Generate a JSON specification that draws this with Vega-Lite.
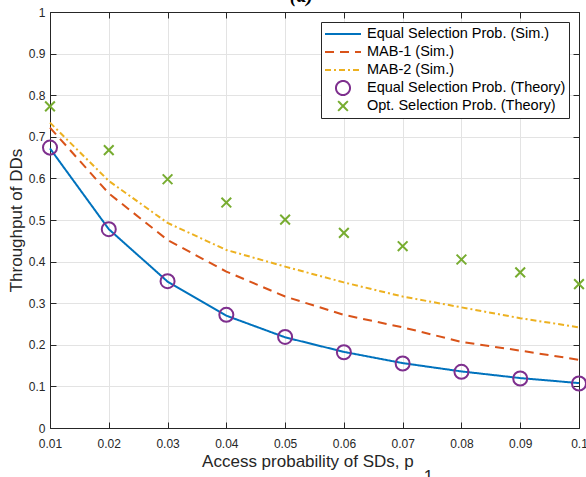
{
  "$schema": "https://vega.github.io/schema/vega-lite/v6.json",
  "width": 529,
  "height": 416,
  "autosize": {"type": "none"},
  "padding": {"left": 50, "top": 12, "right": 7, "bottom": 49},
  "background": "white",
  "title": {
    "text": "(a)",
    "font": "Liberation Serif",
    "fontSize": 20,
    "fontStyle": "italic",
    "fontWeight": "bold",
    "color": "black",
    "anchor": "middle",
    "frame": "group",
    "baseline": "alphabetic",
    "dx": -13,
    "dy": 16,
    "offset": 0
  },
  "data": {
    "values": [
      {"p": 0.01, "value": 0.672, "series": "Equal Selection Prob. (Sim.)"},
      {"p": 0.02, "value": 0.478, "series": "Equal Selection Prob. (Sim.)"},
      {"p": 0.03, "value": 0.352, "series": "Equal Selection Prob. (Sim.)"},
      {"p": 0.04, "value": 0.270, "series": "Equal Selection Prob. (Sim.)"},
      {"p": 0.05, "value": 0.218, "series": "Equal Selection Prob. (Sim.)"},
      {"p": 0.06, "value": 0.183, "series": "Equal Selection Prob. (Sim.)"},
      {"p": 0.07, "value": 0.156, "series": "Equal Selection Prob. (Sim.)"},
      {"p": 0.08, "value": 0.136, "series": "Equal Selection Prob. (Sim.)"},
      {"p": 0.09, "value": 0.120, "series": "Equal Selection Prob. (Sim.)"},
      {"p": 0.10, "value": 0.108, "series": "Equal Selection Prob. (Sim.)"},
      {"p": 0.01, "value": 0.722, "series": "MAB-1 (Sim.)"},
      {"p": 0.02, "value": 0.564, "series": "MAB-1 (Sim.)"},
      {"p": 0.03, "value": 0.452, "series": "MAB-1 (Sim.)"},
      {"p": 0.04, "value": 0.376, "series": "MAB-1 (Sim.)"},
      {"p": 0.05, "value": 0.316, "series": "MAB-1 (Sim.)"},
      {"p": 0.06, "value": 0.272, "series": "MAB-1 (Sim.)"},
      {"p": 0.07, "value": 0.242, "series": "MAB-1 (Sim.)"},
      {"p": 0.08, "value": 0.207, "series": "MAB-1 (Sim.)"},
      {"p": 0.09, "value": 0.186, "series": "MAB-1 (Sim.)"},
      {"p": 0.10, "value": 0.164, "series": "MAB-1 (Sim.)"},
      {"p": 0.01, "value": 0.734, "series": "MAB-2 (Sim.)"},
      {"p": 0.02, "value": 0.594, "series": "MAB-2 (Sim.)"},
      {"p": 0.03, "value": 0.493, "series": "MAB-2 (Sim.)"},
      {"p": 0.04, "value": 0.428, "series": "MAB-2 (Sim.)"},
      {"p": 0.05, "value": 0.388, "series": "MAB-2 (Sim.)"},
      {"p": 0.06, "value": 0.350, "series": "MAB-2 (Sim.)"},
      {"p": 0.07, "value": 0.316, "series": "MAB-2 (Sim.)"},
      {"p": 0.08, "value": 0.290, "series": "MAB-2 (Sim.)"},
      {"p": 0.09, "value": 0.264, "series": "MAB-2 (Sim.)"},
      {"p": 0.10, "value": 0.242, "series": "MAB-2 (Sim.)"},
      {"p": 0.01, "value": 0.674, "series": "Equal Selection Prob. (Theory)"},
      {"p": 0.02, "value": 0.478, "series": "Equal Selection Prob. (Theory)"},
      {"p": 0.03, "value": 0.353, "series": "Equal Selection Prob. (Theory)"},
      {"p": 0.04, "value": 0.272, "series": "Equal Selection Prob. (Theory)"},
      {"p": 0.05, "value": 0.219, "series": "Equal Selection Prob. (Theory)"},
      {"p": 0.06, "value": 0.182, "series": "Equal Selection Prob. (Theory)"},
      {"p": 0.07, "value": 0.155, "series": "Equal Selection Prob. (Theory)"},
      {"p": 0.08, "value": 0.135, "series": "Equal Selection Prob. (Theory)"},
      {"p": 0.09, "value": 0.119, "series": "Equal Selection Prob. (Theory)"},
      {"p": 0.10, "value": 0.107, "series": "Equal Selection Prob. (Theory)"},
      {"p": 0.01, "value": 0.773, "series": "Opt. Selection Prob. (Theory)"},
      {"p": 0.02, "value": 0.668, "series": "Opt. Selection Prob. (Theory)"},
      {"p": 0.03, "value": 0.598, "series": "Opt. Selection Prob. (Theory)"},
      {"p": 0.04, "value": 0.542, "series": "Opt. Selection Prob. (Theory)"},
      {"p": 0.05, "value": 0.501, "series": "Opt. Selection Prob. (Theory)"},
      {"p": 0.06, "value": 0.469, "series": "Opt. Selection Prob. (Theory)"},
      {"p": 0.07, "value": 0.437, "series": "Opt. Selection Prob. (Theory)"},
      {"p": 0.08, "value": 0.405, "series": "Opt. Selection Prob. (Theory)"},
      {"p": 0.09, "value": 0.374, "series": "Opt. Selection Prob. (Theory)"},
      {"p": 0.10, "value": 0.346, "series": "Opt. Selection Prob. (Theory)"}
    ]
  },
  "layer": [
    {
      "transform": [{"filter": {"field": "series", "oneOf": ["Equal Selection Prob. (Sim.)", "MAB-1 (Sim.)", "MAB-2 (Sim.)"]}}],
      "mark": {"type": "line", "strokeWidth": 2},
      "encoding": {
        "x": {
          "field": "p", "type": "quantitative",
          "scale": {"domain": [0.01, 0.1], "nice": false, "zero": false},
          "axis": {
            "orient": "bottom",
            "values": [0.01, 0.02, 0.03, 0.04, 0.05, 0.06, 0.07, 0.08, 0.09, 0.1],
            "format": ".2~f",
            "labelPadding": 16,
            "labelFlush": false,
            "labelOverlap": false,
            "grid": true,
            "title": ["Access probability of SDs, p\u00a0\u00a0\u00a0\u200b", "\u200b\u00a0\u00a0\u00a0\u00a0\u00a0\u00a0\u00a0\u00a0\u00a0\u00a0\u00a0\u00a0\u00a0\u00a0\u00a0\u00a0\u00a0\u00a0\u00a0\u00a0\u00a0\u00a0\u00a0\u00a0\u00a0\u00a0\u00a0\u00a0\u00a0\u00a0\u00a0\u00a0\u00a0\u00a0\u00a0\u00a0\u00a0\u00a0\u00a0\u00a0\u00a0\u00a0\u00a0\u00a0\u00a0\u00a0\u00a0\u00a01"],
            "titleLineHeight": 15,
            "titlePadding": 4
          }
        },
        "y": {
          "field": "value", "type": "quantitative",
          "scale": {"domain": [0, 1], "nice": false, "zero": true},
          "axis": {
            "orient": "left",
            "values": [0, 0.1, 0.2, 0.3, 0.4, 0.5, 0.6, 0.7, 0.8, 0.9, 1],
            "format": ".1~f",
            "labelPadding": 11,
            "labelFlush": false,
            "labelOverlap": false,
            "grid": true,
            "title": "Throughput of DDs",
            "titlePadding": 3
          }
        },
        "color": {
          "field": "series", "type": "nominal",
          "scale": {
            "domain": ["Equal Selection Prob. (Sim.)", "MAB-1 (Sim.)", "MAB-2 (Sim.)", "Equal Selection Prob. (Theory)", "Opt. Selection Prob. (Theory)"],
            "range": ["#0072BD", "#D95319", "#EDB120", "#7E2F8E", "#77AC30"]
          },
          "legend": {"title": null}
        },
        "strokeDash": {
          "field": "series", "type": "nominal",
          "scale": {
            "domain": ["Equal Selection Prob. (Sim.)", "MAB-1 (Sim.)", "MAB-2 (Sim.)", "Equal Selection Prob. (Theory)", "Opt. Selection Prob. (Theory)"],
            "range": [[1, 0], [9, 6], [6, 3, 2, 3], [1, 0], [1, 0]]
          },
          "legend": {"title": null}
        }
      }
    },
    {
      "transform": [{"filter": {"field": "series", "oneOf": ["Equal Selection Prob. (Theory)", "Opt. Selection Prob. (Theory)"]}}],
      "mark": {"type": "point", "filled": false, "size": 1296, "strokeWidth": 2, "opacity": 1},
      "encoding": {
        "x": {
          "field": "p", "type": "quantitative",
          "scale": {"domain": [0.01, 0.1], "nice": false, "zero": false},
          "axis": {
            "orient": "top",
            "values": [0.01, 0.02, 0.03, 0.04, 0.05, 0.06, 0.07, 0.08, 0.09, 0.1],
            "labels": false,
            "grid": false,
            "title": null
          }
        },
        "y": {
          "field": "value", "type": "quantitative",
          "scale": {"domain": [0, 1], "nice": false, "zero": true},
          "axis": {
            "orient": "right",
            "values": [0, 0.1, 0.2, 0.3, 0.4, 0.5, 0.6, 0.7, 0.8, 0.9, 1],
            "labels": false,
            "grid": false,
            "title": null
          }
        },
        "color": {
          "field": "series", "type": "nominal",
          "scale": {
            "domain": ["Equal Selection Prob. (Sim.)", "MAB-1 (Sim.)", "MAB-2 (Sim.)", "Equal Selection Prob. (Theory)", "Opt. Selection Prob. (Theory)"],
            "range": ["#0072BD", "#D95319", "#EDB120", "#7E2F8E", "#77AC30"]
          },
          "legend": {"title": null}
        },
        "shape": {
          "field": "series", "type": "nominal",
          "scale": {
            "domain": ["Equal Selection Prob. (Sim.)", "MAB-1 (Sim.)", "MAB-2 (Sim.)", "Equal Selection Prob. (Theory)", "Opt. Selection Prob. (Theory)"],
            "range": ["stroke", "stroke", "stroke", "M0.39,0A0.39,0.39,0,1,1,-0.39,0A0.39,0.39,0,1,1,0.39,0Z", "M-0.27,-0.27L0.27,0.27M-0.27,0.27L0.27,-0.27"]
          },
          "legend": {"title": null}
        }
      }
    }
  ],
  "resolve": {"axis": {"x": "independent", "y": "independent"}},
  "config": {
    "view": {"stroke": "#262626", "strokeWidth": 1},
    "axis": {
      "domainColor": "#262626",
      "domainWidth": 1,
      "tickColor": "#262626",
      "tickSize": -6,
      "tickWidth": 1,
      "labelColor": "#262626",
      "labelFont": "Liberation Sans",
      "labelFontSize": 12,
      "titleFont": "Liberation Sans",
      "titleFontSize": 17,
      "titleFontWeight": "normal",
      "titleColor": "#262626",
      "gridColor": "#e3e3e3",
      "gridWidth": 1
    },
    "legend": {
      "orient": "top-right",
      "offset": 10,
      "padding": 3,
      "fillColor": "white",
      "strokeColor": "#262626",
      "cornerRadius": 0,
      "labelFont": "Liberation Sans",
      "labelFontSize": 14.5,
      "labelColor": "black",
      "labelOffset": 5,
      "labelLimit": 400,
      "symbolSize": 1296,
      "symbolStrokeWidth": 2,
      "symbolOffset": 0,
      "clipHeight": 18,
      "rowPadding": 0
    }
  }
}
